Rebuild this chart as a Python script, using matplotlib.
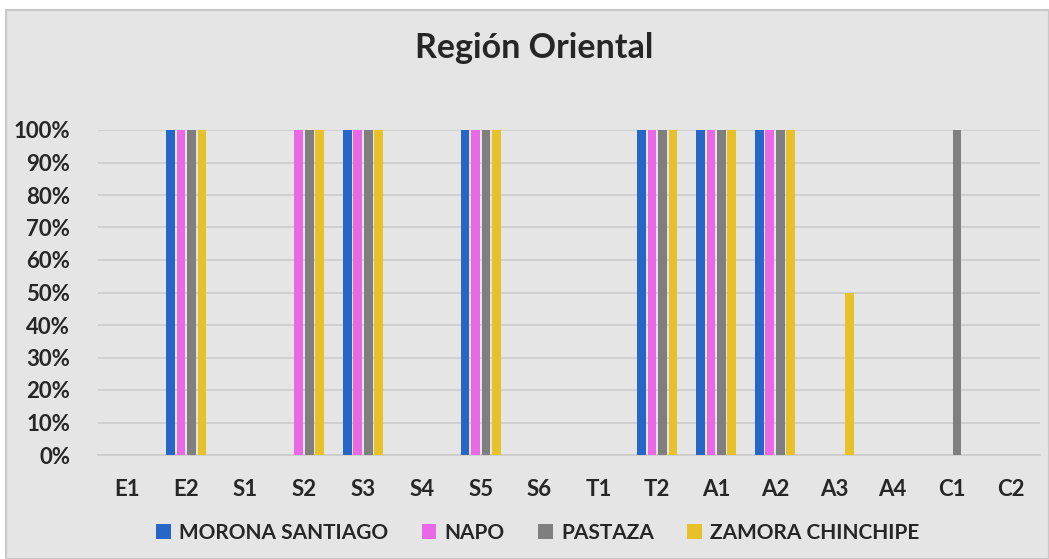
import numpy as np
import matplotlib.pyplot as plt
from matplotlib.patches import Rectangle
from matplotlib.ticker import PercentFormatter

plt.rcParams["font.family"] = ["Lato", "DejaVu Sans"]

categories = ["E1", "E2", "S1", "S2", "S3", "S4", "S5", "S6",
              "T1", "T2", "A1", "A2", "A3", "A4", "C1", "C2"]
series_names = ["MORONA SANTIAGO", "NAPO", "PASTAZA", "ZAMORA CHINCHIPE"]
morona = [0, 1, 0, 0, 1, 0, 1, 0, 0, 1, 1, 1, 0, 0, 0, 0]
napo = [0, 1, 0, 1, 1, 0, 1, 0, 0, 1, 1, 1, 0, 0, 0, 0]
pastaza = [0, 1, 0, 1, 1, 0, 1, 0, 0, 1, 1, 1, 0, 0, 1, 0]
zamora = [0, 1, 0, 1, 1, 0, 1, 0, 0, 1, 1, 1, 0.5, 0, 0, 0]
colors = ["#2566c6", "#e868e6", "#7f7f7f", "#e6c12a"]

bg = "#e5e5e5"
fig = plt.figure(figsize=(10.49, 5.59), dpi=100)
fig.patch.set_facecolor("white")
fig.patches.append(Rectangle((6 / 1049, 0), 1 - 6 / 1049, 1 - 10 / 559,
                             transform=fig.transFigure, facecolor=bg,
                             edgecolor="#c8c8c8", linewidth=1.5, zorder=-5))

ax = fig.add_axes([98 / 1049, 1 - 455 / 559, 942 / 1049, 325 / 559])
ax.set_facecolor(bg)

x = np.arange(len(categories))
step = 0.178
width = 0.15
for i, (vals, name) in enumerate(zip([morona, napo, pastaza, zamora], series_names)):
    ax.bar(x + (i - 1.5) * step, vals, width, color=colors[i], label=name, zorder=3)

ax.set_xlim(-0.5, len(categories) - 0.5)
ax.set_ylim(0, 1)
ax.set_yticks(np.arange(0, 1.01, 0.1))
ax.yaxis.set_major_formatter(PercentFormatter(1.0, decimals=0))
ax.set_xticks(x)
ax.set_xticklabels(categories)
ax.grid(axis="y", color="#cccccc", linewidth=1.2, zorder=0)
ax.set_axisbelow(True)
for side in ["top", "right", "left"]:
    ax.spines[side].set_visible(False)
ax.spines["bottom"].set_color("#cccccc")
ax.spines["bottom"].set_linewidth(1.2)
ax.tick_params(length=0, labelsize=16, colors="#262626")
ax.tick_params(axis="x", pad=17)
ax.tick_params(axis="y", pad=20)
for lbl in ax.get_xticklabels() + ax.get_yticklabels():
    lbl.set_fontweight("bold")

fig.text(534 / 1049, 1 - 48 / 559, "Región Oriental", ha="center", va="center",
         fontsize=24.5, fontweight="bold", color="#262626")

leg = fig.legend(loc="center", bbox_to_anchor=(538 / 1049, 1 - 533 / 559), ncol=4,
                 frameon=False, prop={"size": 15, "weight": "bold"},
                 handlelength=0.7, handleheight=0.7, handletextpad=0.4,
                 columnspacing=1.6)
for t in leg.get_texts():
    t.set_color("#262626")

fig.savefig("out.png", dpi=100, facecolor=fig.get_facecolor())
